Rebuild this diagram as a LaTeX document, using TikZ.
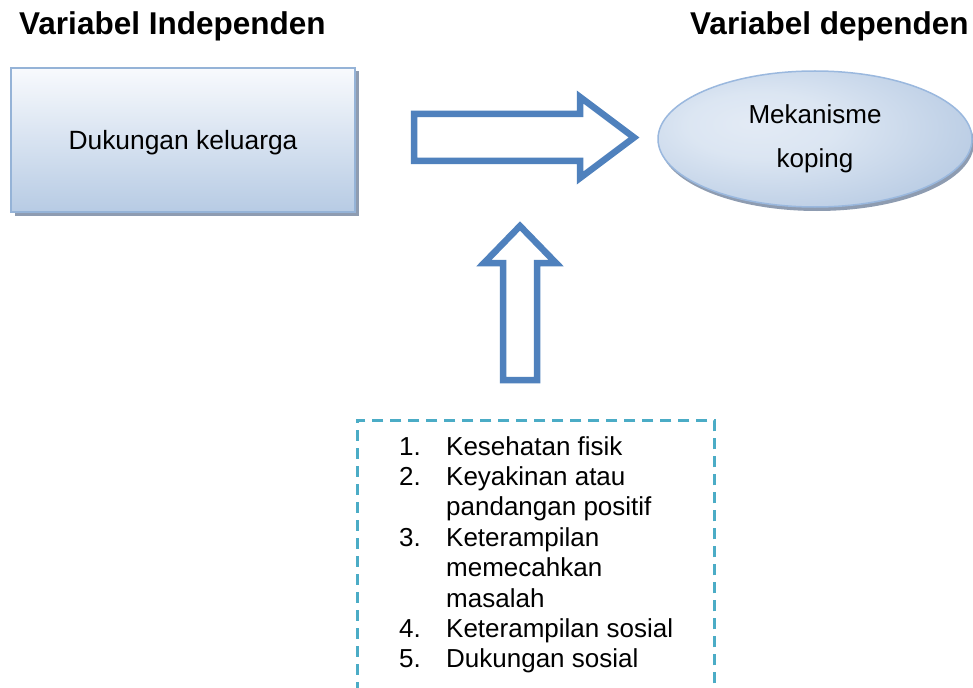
\documentclass[tikz,border=0pt]{standalone}
\usepackage{fontspec}
\setmainfont{Liberation Sans}
\usetikzlibrary{shapes.geometric,shadows}
\definecolor{arrowblue}{HTML}{4F81BD}
\definecolor{boxtop}{HTML}{F8FAFD}
\definecolor{boxbot}{HTML}{B7CBE4}
\definecolor{boxline}{HTML}{95B3D7}
\definecolor{shadowgray}{HTML}{8E9CB1}
\definecolor{ellline}{HTML}{9AB8DE}
\definecolor{dashteal}{HTML}{4BACC6}
\pgfdeclareradialshading{ellshade}{\pgfpoint{-10bp}{6bp}}{rgb(0bp)=(0.89,0.92,0.96); rgb(12bp)=(0.86,0.90,0.95); rgb(44bp)=(0.66,0.75,0.865); rgb(80bp)=(0.60,0.70,0.84)}
\tikzset{
  titletext/.style={font=\fontsize{31.5}{36}\selectfont\bfseries, inner sep=0pt, anchor=base west},
  varbox/.style={rectangle, draw=boxline, line width=2pt, top color=boxtop, bottom color=boxbot,
    minimum width=344pt, minimum height=144pt, inner sep=0pt,
    font=\fontsize{26.4}{30}\selectfont, text height=19pt, text depth=0pt,
    general shadow={fill=shadowgray, shadow xshift=4pt, shadow yshift=-3.5pt}},
  varellipse/.style={ellipse, draw=ellline, line width=1.5pt, shading=ellshade,
    minimum width=314pt, minimum height=136pt, inner sep=0pt, align=center,
    font=\fontsize{26}{44}\selectfont,
    general shadow={fill=shadowgray, shadow xshift=2pt, shadow yshift=-4pt}},
  blockarrow/.style={draw=arrowblue, line width=6.5pt, fill=white, line join=miter},
  factorbox/.style={rectangle, draw=dashteal, line width=2.6pt, dash pattern=on 11pt off 7pt,
    minimum width=357pt, minimum height=320pt, inner sep=0pt},
  factorlist/.style={inner sep=0pt, anchor=base west, font=\fontsize{26}{30.4}\selectfont}
}
\newcommand{\numitem}[1]{\makebox[47pt][l]{#1}}
\begin{document}
\begin{tikzpicture}[x=1pt,y=-1pt]
\path[use as bounding box] (0,0) rectangle (973,687);
\fill[white] (0,0) rectangle (973,687);
\clip (0,0) rectangle (973,687);

\node[titletext] (tleft) at (19,35) {Variabel Independen};
\node[titletext] (tright) at (690,35) {Variabel dependen};

\node[varbox] (dukungan) at (183,140) {Dukungan keluarga};
\node[varellipse] (koping) at (815,139) {Mekanisme\\koping};

% right block arrow
\draw[blockarrow] (414,114) -- (580,114) -- (580,97) -- (634,137.5) -- (580,178) -- (580,161) -- (414,161) -- cycle;
% up block arrow
\draw[blockarrow] (503,380) -- (503,263) -- (484,263) -- (520,226) -- (556,263) -- (537,263) -- (537,380) -- cycle;

\node[factorbox, anchor=north west] (faktor) at (356,419) {};
\node[factorlist] (faktorlist) at (399,455) {%
\begin{tabular}[t]{@{}l@{}}
\numitem{1.}Kesehatan fisik\\
\numitem{2.}Keyakinan atau\\
\numitem{}pandangan positif\\
\numitem{3.}Keterampilan\\
\numitem{}memecahkan\\
\numitem{}masalah\\
\numitem{4.}Keterampilan sosial\\
\numitem{5.}Dukungan sosial
\end{tabular}};
\end{tikzpicture}
\end{document}
